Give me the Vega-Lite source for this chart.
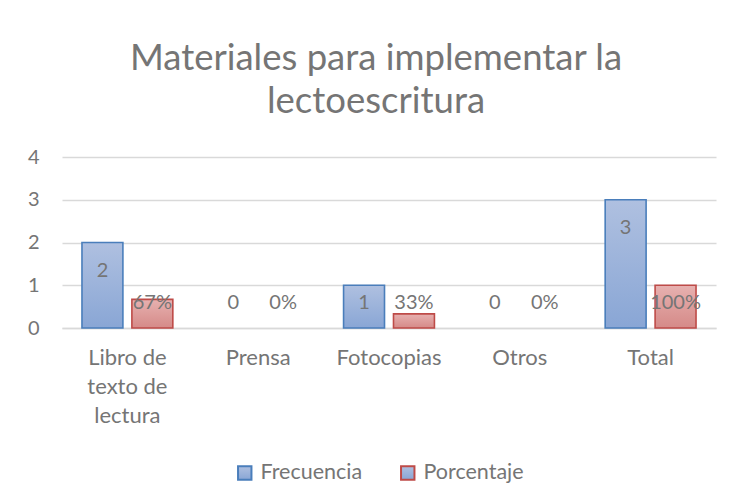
{
  "$schema": "https://vega.github.io/schema/vega-lite/v6.json",
  "autosize": "none",
  "padding": {"left": 62, "top": 157, "right": 15, "bottom": 176},
  "width": 654,
  "height": 171,
  "background": "white",
  "title": {
    "text": ["Materiales para implementar la", "lectoescritura"],
    "fontSize": 36.5,
    "fontWeight": "normal",
    "color": "#757575",
    "lineHeight": 43,
    "anchor": "middle",
    "frame": "group",
    "dx": -13,
    "offset": 27
  },
  "data": {
    "values": [
      {"categoria": "Libro de texto de lectura", "serie": "Frecuencia", "valor": 2, "etiqueta": "2"},
      {"categoria": "Libro de texto de lectura", "serie": "Porcentaje", "valor": 0.67, "etiqueta": "67%"},
      {"categoria": "Prensa", "serie": "Frecuencia", "valor": 0, "etiqueta": "0"},
      {"categoria": "Prensa", "serie": "Porcentaje", "valor": 0, "etiqueta": "0%"},
      {"categoria": "Fotocopias", "serie": "Frecuencia", "valor": 1, "etiqueta": "1"},
      {"categoria": "Fotocopias", "serie": "Porcentaje", "valor": 0.33, "etiqueta": "33%"},
      {"categoria": "Otros", "serie": "Frecuencia", "valor": 0, "etiqueta": "0"},
      {"categoria": "Otros", "serie": "Porcentaje", "valor": 0, "etiqueta": "0%"},
      {"categoria": "Total", "serie": "Frecuencia", "valor": 3, "etiqueta": "3"},
      {"categoria": "Total", "serie": "Porcentaje", "valor": 1, "etiqueta": "100%"}
    ]
  },
  "encoding": {
    "x": {
      "field": "categoria",
      "type": "nominal",
      "sort": ["Libro de texto de lectura", "Prensa", "Fotocopias", "Otros", "Total"],
      "scale": {"paddingInner": 0, "paddingOuter": 0},
      "axis": {
        "title": null,
        "labelAngle": 0,
        "labelExpr": "datum.label == 'Libro de texto de lectura' ? ['Libro de', 'texto de', 'lectura'] : datum.label",
        "labelFontSize": 22,
        "labelLineHeight": 29,
        "labelColor": "#757575",
        "labelPadding": 19,
        "labelBaseline": "top",
        "ticks": false,
        "domain": true,
        "domainColor": "#d9d9d9",
        "domainWidth": 1.5
      }
    },
    "xOffset": {
      "field": "serie",
      "type": "nominal",
      "sort": ["Frecuencia", "Porcentaje"],
      "scale": {"paddingInner": 0.18, "paddingOuter": 0.4}
    },
    "y": {
      "field": "valor",
      "type": "quantitative",
      "scale": {"domain": [0, 4], "nice": false},
      "axis": {
        "title": null,
        "values": [0, 1, 2, 3, 4],
        "grid": true,
        "gridColor": "#d9d9d9",
        "gridWidth": 1.5,
        "domain": false,
        "ticks": false,
        "labelFontSize": 20,
        "labelColor": "#757575",
        "labelPadding": 23
      }
    }
  },
  "layer": [
    {
      "transform": [{"filter": "datum.serie == 'Frecuencia' && datum.valor > 0"}],
      "mark": {
        "type": "bar",
        "strokeWidth": 1.6,
        "fill": {
          "gradient": "linear", "x1": 0, "y1": 0, "x2": 0, "y2": 1,
          "stops": [{"offset": 0, "color": "#afc0e0"}, {"offset": 1, "color": "#89a6d5"}]
        }
      },
      "encoding": {
        "stroke": {
          "field": "serie",
          "type": "nominal",
          "scale": {"domain": ["Frecuencia", "Porcentaje"], "range": ["#4a7ebb", "#be4b48"]},
          "legend": {
            "title": null,
            "orient": "none",
            "legendX": 172,
            "legendY": 305,
            "direction": "horizontal",
            "symbolType": "square",
            "symbolSize": 180,
            "symbolStrokeWidth": 2,
            "labelFontSize": 21.5,
            "labelColor": "#757575",
            "labelOffset": 5,
            "columnPadding": 34,
            "encode": {
              "symbols": {
                "fill": {
                  "condition": {"test": "datum.value === 'Frecuencia'", "value": "#a0b5dc"},
                  "value": "#dd9e9d"
                },
                "opacity": {"value": 1}
              }
            }
          }
        }
      }
    },
    {
      "transform": [{"filter": "datum.serie == 'Porcentaje' && datum.valor > 0"}],
      "mark": {
        "type": "bar",
        "strokeWidth": 1.6,
        "fill": {
          "gradient": "linear", "x1": 0, "y1": 0, "x2": 0, "y2": 1,
          "stops": [{"offset": 0, "color": "#e7b1b0"}, {"offset": 1, "color": "#d58a88"}]
        }
      },
      "encoding": {
        "stroke": {"field": "serie", "type": "nominal"}
      }
    },
    {
      "transform": [{"calculate": "max(datum.valor - 0.67, 0.58)", "as": "posEtiqueta"}],
      "mark": {"type": "text", "fontSize": 20, "color": "#757575", "baseline": "middle", "align": "center"},
      "encoding": {
        "y": {"field": "posEtiqueta", "type": "quantitative"},
        "text": {"field": "etiqueta", "type": "nominal"}
      }
    }
  ],
  "config": {
    "font": "Lato",
    "view": {"stroke": null}
  }
}
